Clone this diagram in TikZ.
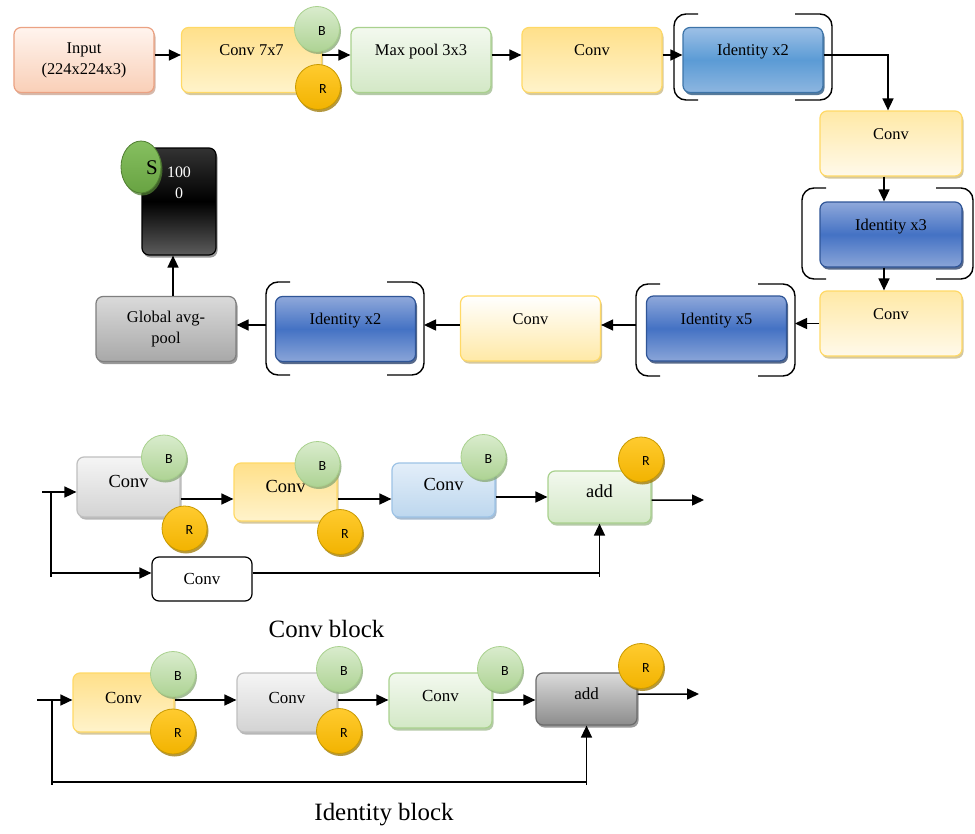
\documentclass[tikz,border=0pt]{standalone}
\usepackage{fontspec}
\setmainfont{Liberation Serif}
\newfontfamily\badgefont{Carlito}
\usetikzlibrary{arrows.meta,shadows,shapes.geometric,calc}

% palette
\definecolor{inpTop}{HTML}{FFF4EE}
\definecolor{inpBot}{HTML}{F9CFB7}
\definecolor{inpLine}{HTML}{EBA283}
\definecolor{inpShadow}{HTML}{C9A290}
\definecolor{yelTop}{HTML}{FFE08A}
\definecolor{yelBot}{HTML}{FFF3CB}
\definecolor{yelLine}{HTML}{FFD966}
\definecolor{yelShadow}{HTML}{C8B67E}
\definecolor{ylTop}{HTML}{FFE9A6}
\definecolor{ylBot}{HTML}{FFF9EA}
\definecolor{grnTop}{HTML}{F3F9EF}
\definecolor{grnBot}{HTML}{D3E8C6}
\definecolor{grnLine}{HTML}{A9D18E}
\definecolor{grnShadow}{HTML}{9DB98B}
\definecolor{baTop}{HTML}{9DC0E6}
\definecolor{baMid}{HTML}{5B9BD5}
\definecolor{baBot}{HTML}{8DB6E0}
\definecolor{baLine}{HTML}{3D74A8}
\definecolor{baShadow}{HTML}{1F4E79}
\definecolor{bbTop}{HTML}{8FA8DA}
\definecolor{bbMid}{HTML}{4472C4}
\definecolor{bbBot}{HTML}{8AA5D8}
\definecolor{bbLine}{HTML}{2F5597}
\definecolor{bbShadow}{HTML}{1F3864}
\definecolor{gTop}{HTML}{DADADA}
\definecolor{gBot}{HTML}{A8A8A8}
\definecolor{gLine}{HTML}{7F7F7F}
\definecolor{gShadow}{HTML}{777777}
\definecolor{lgTop}{HTML}{F5F5F5}
\definecolor{lgBot}{HTML}{D3D3D3}
\definecolor{lgLine}{HTML}{BFBFBF}
\definecolor{lgShadow}{HTML}{A0A0A0}
\definecolor{dgTop}{HTML}{DADADA}
\definecolor{dgBot}{HTML}{8C8C8C}
\definecolor{dgLine}{HTML}{6B6B6B}
\definecolor{lbTop}{HTML}{E3EEF9}
\definecolor{lbBot}{HTML}{BDD7EE}
\definecolor{lbLine}{HTML}{9DC3E6}
\definecolor{lbShadow}{HTML}{8AA6C2}
\definecolor{softTop}{HTML}{333333}
\definecolor{softBot}{HTML}{5C5C5C}
\definecolor{smTop}{HTML}{86BF60}
\definecolor{smBot}{HTML}{68A342}
\definecolor{smLine}{HTML}{507E32}
\definecolor{bTop}{HTML}{D9ECCD}
\definecolor{bBot}{HTML}{AED394}
\definecolor{bLine}{HTML}{A9D18E}
\definecolor{bShadow}{HTML}{86A873}
\definecolor{rTop}{HTML}{FFCB2F}
\definecolor{rBot}{HTML}{F2B300}
\definecolor{rLine}{HTML}{C99A00}
\definecolor{rShadow}{HTML}{9C7600}

% bracket pair around a repeated stage: left x, right x, top y, bottom y
\newcommand{\stagebrackets}[4]{%
  \draw[brk] ({#1+24},#3) -- (#1,#3) -- (#1,#4) -- ({#1+24},#4);
  \draw[brk] ({#2-37},#3) -- (#2,#3) -- (#2,#4) -- ({#2-37},#4);}

\begin{document}
\begin{tikzpicture}[x=1bp,y=-1bp,
  every node/.style={inner sep=0pt},
  box/.style={draw, rounded corners=7bp, line width=1.2bp, align=center},
  castshadow/.style={drop shadow={shadow xshift=1.5bp,shadow yshift=-2.5bp,fill=#1,opacity=0.75}},
  main/.style={box, minimum width=140bp, minimum height=65bp, font=\fontsize{16.5}{21}\selectfont},
  mini/.style={box, font=\fontsize{18.5}{22}\selectfont},
  raisedtext/.style={text height=12bp, text depth=21bp},
  liftedtext/.style={text height=13bp, text depth=11.5bp},
  inputbox/.style={top color=inpTop, bottom color=inpBot, draw=inpLine, castshadow=inpShadow},
  yellowbox/.style={top color=yelTop, bottom color=yelBot, draw=yelLine, castshadow=yelShadow},
  paleyellow/.style={top color=ylTop, bottom color=ylBot, draw=yelLine, castshadow=yelShadow},
  whiteyellow/.style={top color=white, bottom color=ylTop, draw=yelLine, castshadow=yelShadow},
  greenbox/.style={top color=grnTop, bottom color=grnBot, draw=grnLine, castshadow=grnShadow},
  bluea/.style={top color=baTop, bottom color=baBot, middle color=baMid, draw=baLine, castshadow=baShadow},
  blueb/.style={top color=bbTop, bottom color=bbBot, middle color=bbMid, draw=bbLine, castshadow=bbShadow},
  greybox/.style={top color=gTop, bottom color=gBot, draw=gLine, castshadow=gShadow},
  lightgrey/.style={top color=lgTop, bottom color=lgBot, draw=lgLine, castshadow=lgShadow},
  darkgrey/.style={top color=dgTop, bottom color=dgBot, draw=dgLine, castshadow=gShadow},
  lightblue/.style={top color=lbTop, bottom color=lbBot, draw=lbLine, castshadow=lbShadow},
  badge/.style={circle, draw, line width=0.8bp, minimum size=45bp},
  bbadge/.style={badge, top color=bTop, bottom color=bBot, draw=bLine, castshadow=bShadow},
  rbadge/.style={badge, top color=rTop, bottom color=rBot, draw=rLine, castshadow=rShadow},
  blabel/.style={font=\badgefont\fontsize{14}{14}\selectfont},
  wire/.style={line width=1.5bp},
  arr/.style={wire, -{Triangle[length=12bp,width=11bp]}},
  brk/.style={line width=1.4bp, rounded corners=12bp},
  caption/.style={font=\fontsize{25}{30}\selectfont}
]
\fill[white] (0,0) rectangle (975,834);
\useasboundingbox (0,0) rectangle (975,834);

% ---------------- main network ----------------
\node[main, inputbox] (inp) at (84,60) {Input\\(224x224x3)};
\node[main, raisedtext, yellowbox] (c7) at (251.5,60) {Conv 7x7};
\node[main, raisedtext, greenbox] (mp) at (421,60) {Max pool 3x3};
\node[main, raisedtext, yellowbox] (cv1) at (592,60) {Conv};
\node[main, raisedtext, bluea] (id1) at (753,60) {Identity x2};
\node[main, raisedtext, paleyellow, minimum width=142bp] (cv2) at (891,143.5) {Conv};
\node[main, raisedtext, blueb, minimum width=142bp] (id3) at (891,234.5) {Identity x3};
\node[main, raisedtext, paleyellow, minimum width=142bp] (cv3) at (891,323.5) {Conv};
\node[main, raisedtext, blueb] (id5) at (716.5,328.5) {Identity x5};
\node[main, raisedtext, whiteyellow] (cv4) at (530.5,328.5) {Conv};
\node[main, raisedtext, blueb] (id2) at (345.5,329) {Identity x2};
\node[main, greybox] (gap) at (166,329) {Global avg-\\pool};
\node[box, minimum width=74bp, minimum height=107bp, top color=softTop, bottom color=softBot, middle color=black, draw=black, castshadow=gShadow] (soft) at (179,201.5) {};
\node[align=center, text=white, font=\fontsize{16}{21}\selectfont] (softtxt) at (179,183) {100\\0};
\node[ellipse, draw=smLine, line width=0.8bp, minimum width=40bp, minimum height=52bp, top color=smTop, bottom color=smBot, castshadow=smLine] (sm) at (141,167) {};
\node[font=\fontsize{21}{21}\selectfont] (smtxt) at (152,168) {S};

% repeated stages
\stagebrackets{674}{832}{14}{100}
\stagebrackets{802}{973}{188}{279}
\stagebrackets{636}{795}{284}{376}
\stagebrackets{266}{424}{282}{375}
\coordinate (b5L) at (636,325);
\coordinate (b5R) at (795,325);
\coordinate (b2L) at (266,325);
\coordinate (b2R) at (424,325);

% main connectors
\draw[arr] ([yshift=5bp]inp.east) -- ([yshift=5bp]c7.west);
\draw[arr] ([yshift=5bp]c7.east) -- ([yshift=5bp]mp.west);
\draw[arr] ([yshift=5bp]mp.east) -- ([yshift=5bp]cv1.west);
\draw[arr] ([yshift=5bp]cv1.east) -- ([yshift=5bp]id1.west);
\draw[arr] ([yshift=5bp]id1.east) -| ([xshift=-3bp]cv2.north);
\draw[arr] ([xshift=-7bp]cv2.south) -- ([xshift=-7bp]id3.north);
\draw[arr] ([xshift=-7bp]id3.south) -- ([xshift=-7bp]cv3.north);
\draw[arr] (cv3.west) -- (cv3.west -| b5R);
\draw[arr] (b5L) -- (b5L -| cv4.east);
\draw[arr] (cv4.west |- b2R) -- (b2R);
\draw[arr] (b2L) -- (b2L -| gap.east);
\draw[arr] ([xshift=7bp]gap.north) -- ([xshift=7bp]gap.north |- soft.south);

% Conv 7x7 badges
\node[bbadge] (c7B) at (317,29) {};
\node[blabel] (c7Bt) at ([xshift=5bp,yshift=-2.5bp]c7B.center) {B};
\node[rbadge] (c7R) at (318,87) {};
\node[blabel] (c7Rt) at ([xshift=5bp,yshift=-2.5bp]c7R.center) {R};

% ---------------- conv block ----------------
\node[mini, liftedtext, lightgrey, minimum width=103bp, minimum height=60bp] (cA) at (128.5,487) {Conv};
\node[mini, liftedtext, yellowbox, minimum width=103bp, minimum height=58bp] (cB) at (285.5,492) {Conv};
\node[mini, liftedtext, lightblue, minimum width=103bp, minimum height=54bp] (cC) at (443.5,490) {Conv};
\node[mini, liftedtext, greenbox, minimum width=103bp, minimum height=52bp] (cAdd) at (599.5,497) {add};
\node[box, draw=black, fill=white, minimum width=100bp, minimum height=44bp, font=\fontsize{17}{20}\selectfont] (cS) at (202,579) {Conv};

\coordinate (cin) at (42,492);
\coordinate (cj) at (51,492);
\coordinate (cjb) at (51,577);
\coordinate (csin) at ([yshift=6bp]cS.west);
\coordinate (csout) at ([yshift=6bp]cS.east);
\coordinate (ca1) at ([yshift=-12bp]cA.east);
\coordinate (cb1) at ([yshift=-7bp]cB.east);
\coordinate (cc1) at ([yshift=-7bp]cC.east);
\coordinate (cd1) at ([yshift=-3bp]cAdd.east);
\coordinate (cout) at (704,500);

\draw[arr] (cin) -- (cin -| cA.west);
\draw[wire] (cj) -- (cjb);
\draw[arr] (cj |- csin) -- (csin);
\draw[arr] (csout) -| (cAdd.south);
\draw[wire] (csout -| cAdd.south) -- ++(0,4);
\draw[arr] (ca1) -- (ca1 -| cB.west);
\draw[arr] (cb1) -- (cb1 -| cC.west);
\draw[arr] (cc1) -- (cc1 -| cAdd.west);
\draw[arr] (cd1) -- (cout);

\node[bbadge] (cAB) at (164,457.5) {};
\node[blabel] (cABt) at ([xshift=5bp,yshift=-2bp]cAB.center) {B};
\node[rbadge] (cAR) at (184.5,528.5) {};
\node[blabel] (cARt) at ([xshift=5bp,yshift=-2bp]cAR.center) {R};
\node[bbadge] (cBB) at (317.5,464) {};
\node[blabel] (cBBt) at ([xshift=5bp,yshift=-2bp]cBB.center) {B};
\node[rbadge] (cBR) at (340,532) {};
\node[blabel] (cBRt) at ([xshift=5bp,yshift=-2bp]cBR.center) {R};
\node[bbadge] (cCB) at (483.5,457) {};
\node[blabel] (cCBt) at ([xshift=5bp,yshift=-2bp]cCB.center) {B};
\node[rbadge] (cDR) at (641,459.5) {};
\node[blabel] (cDRt) at ([xshift=5bp,yshift=-2bp]cDR.center) {R};

\node[caption] (cbcap) at (326.5,629) {Conv block};

% ---------------- identity block ----------------
\node[mini, liftedtext, yellowbox, minimum width=101bp, minimum height=59bp, font=\fontsize{17}{20}\selectfont] (iA) at (123.5,702.5) {Conv};
\node[mini, liftedtext, lightgrey, minimum width=100bp, minimum height=59bp, font=\fontsize{17}{20}\selectfont] (iB) at (287,702.5) {Conv};
\node[mini, liftedtext, greenbox, minimum width=103bp, minimum height=55bp, font=\fontsize{17}{20}\selectfont] (iC) at (440.5,700.5) {Conv};
\node[mini, liftedtext, darkgrey, minimum width=101bp, minimum height=52bp, font=\fontsize{17}{20}\selectfont] (iAdd) at (586.5,699) {add};

\coordinate (iin) at (37,700);
\coordinate (ij) at (52,700);
\coordinate (ijb) at (52,785);
\coordinate (iloop) at (52,782);
\coordinate (ia1) at ([yshift=2.5bp]iA.east);
\coordinate (ib1) at ([yshift=2.5bp]iB.east);
\coordinate (ic1) at ([yshift=0.5bp]iC.east);
\coordinate (id1o) at ([yshift=5bp]iAdd.east);
\coordinate (iout) at (699,694);

\draw[arr] (iin) -- (iin -| iA.west);
\draw[wire] (ij) -- (ijb);
\draw[arr] (iloop) -| (iAdd.south);
\draw[wire] (iloop -| iAdd.south) -- ++(0,3);
\draw[arr] (ia1) -- (ia1 -| iB.west);
\draw[arr] (ib1) -- (ib1 -| iC.west);
\draw[arr] (ic1) -- (ic1 -| iAdd.west);
\draw[arr] (id1o) -- (iout);

\node[bbadge] (iAB) at (173,674) {};
\node[blabel] (iABt) at ([xshift=5bp,yshift=-2bp]iAB.center) {B};
\node[rbadge] (iAR) at (173,731.5) {};
\node[blabel] (iARt) at ([xshift=5bp,yshift=-2bp]iAR.center) {R};
\node[bbadge] (iBB) at (339,669) {};
\node[blabel] (iBBt) at ([xshift=5bp,yshift=-2bp]iBB.center) {B};
\node[rbadge] (iBR) at (339,731) {};
\node[blabel] (iBRt) at ([xshift=5bp,yshift=-2bp]iBR.center) {R};
\node[bbadge] (iCB) at (500,669) {};
\node[blabel] (iCBt) at ([xshift=5bp,yshift=-2bp]iCB.center) {B};
\node[rbadge] (iDR) at (641,666) {};
\node[blabel] (iDRt) at ([xshift=5bp,yshift=-2bp]iDR.center) {R};

\node[caption] (ibcap) at (384,815) {Identity block};
\end{tikzpicture}
\end{document}
